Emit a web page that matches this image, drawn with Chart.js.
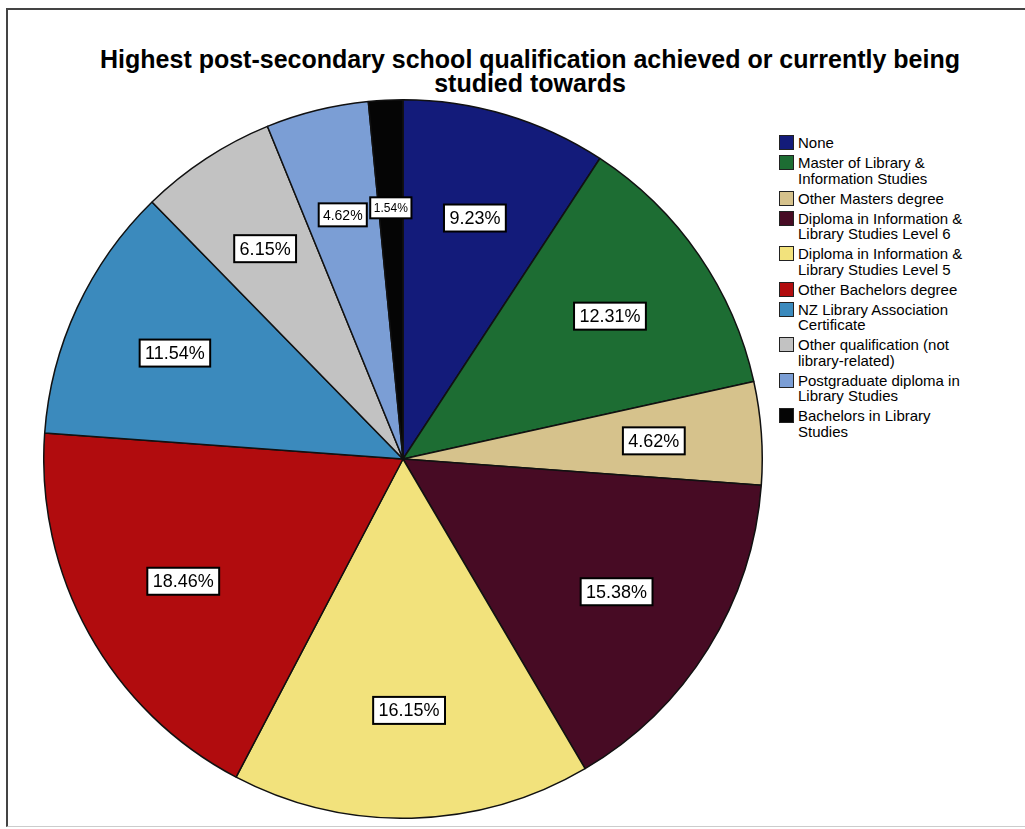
<!DOCTYPE html>
<html>
<head>
<meta charset="utf-8">
<script src="https://cdn.jsdelivr.net/npm/chart.js@4/dist/chart.umd.min.js"></script>
<style>
  html, body { margin: 0; padding: 0; background: #fff; }
  body { width: 1025px; height: 829px; position: relative; overflow: hidden; font-family: "Liberation Sans", Arial, sans-serif; }
  #frame { position: absolute; left: 6px; top: 8px; width: 1040px; height: 819px; border-left: 2px solid #444; border-top: 2px solid #444; border-bottom: 1px solid #ccc; box-sizing: border-box; }
  #title { position: absolute; left: 0; top: 47px; width: 1060px; text-align: center; font-weight: bold; font-size: 25px; line-height: 24px; color: #000; }
  #wrap { position: absolute; left: 43px; top: 99px; width: 720px; height: 720px; }
  #legend { position: absolute; left: 779px; top: 135px; font-size: 15px; line-height: 15.5px; color: #000; }
  .item { display: flex; align-items: flex-start; margin-bottom: 4.5px; }
  .sw { width: 13px; height: 13px; border: 1.5px solid #222; margin-top: 0px; margin-right: 4px; flex: none; }
</style>
</head>
<body>
<div id="frame"></div>
<div id="title">Highest post-secondary school qualification achieved or currently being<br>studied towards</div>
<div id="wrap"><canvas id="pie" width="720" height="720"></canvas></div>
<div id="legend"></div>
<script>
// categories, as printed in the legend (one entry per line)
const categories = [
    ['None'],
    ['Master of Library &', 'Information Studies'],
    ['Other Masters degree'],
    ['Diploma in Information &', 'Library Studies Level 6'],
    ['Diploma in Information &', 'Library Studies Level 5'],
    ['Other Bachelors degree'],
    ['NZ Library Association', 'Certificate'],
    ['Other qualification (not', 'library-related)'],
    ['Postgraduate diploma in', 'Library Studies'],
    ['Bachelors in Library', 'Studies']
];
// share of respondents (%)
const percents = [9.23, 12.31, 4.62, 15.38, 16.15, 18.46, 11.54, 6.15, 4.62, 1.54];
const colors = ['#131b7a', '#1d6d33', '#d6c28c', '#470b24', '#f2e27c', '#b10c0e', '#3b8abd', '#c2c2c2', '#7b9ed5', '#050505'];

// percentage boxes inside the slices
const boxLabels = {
    id: 'boxLabels',
    afterDatasetsDraw(chart) {
        const ctx = chart.ctx;
        const arcs = chart.getDatasetMeta(0).data;
        arcs.forEach((arc, i) => {
            const mid = (arc.startAngle + arc.endAngle) / 2;
            const r = arc.outerRadius * 0.7;
            const x = arc.x + Math.cos(mid) * r;
            const y = arc.y + Math.sin(mid) * r;
            let size = 18;
            if (percents[i] < 2) size = 12;
            else if (i === 8) size = 14;
            ctx.save();
            ctx.font = size + 'px "Liberation Sans", Arial, sans-serif';
            const text = percents[i].toFixed(2) + '%';
            const w = ctx.measureText(text).width + size * 0.6;
            const h = size + 9;
            ctx.fillStyle = '#fff';
            ctx.strokeStyle = '#000';
            ctx.lineWidth = 2;
            ctx.fillRect(x - w / 2, y - h / 2, w, h);
            ctx.strokeRect(x - w / 2, y - h / 2, w, h);
            ctx.fillStyle = '#000';
            ctx.textAlign = 'center';
            ctx.textBaseline = 'middle';
            ctx.fillText(text, x, y + 1);
            ctx.restore();
        });
    }
};

const chart = new Chart(document.getElementById('pie').getContext('2d'), {
    type: 'pie',
    data: {
        labels: categories.map(c => c.join(' ')),
        datasets: [{
            data: percents,
            backgroundColor: colors,
            borderColor: '#111',
            borderWidth: 1.5
        }]
    },
    options: {
        responsive: false,
        animation: false,
        layout: { padding: 0 },
        plugins: {
            legend: { display: false },
            tooltip: { enabled: false }
        }
    },
    plugins: [boxLabels]
});

// legend on the right
const legend = document.getElementById('legend');
categories.forEach((lines, i) => {
    const item = document.createElement('div');
    item.className = 'item';
    const sw = document.createElement('div');
    sw.className = 'sw';
    sw.style.background = colors[i];
    const txt = document.createElement('div');
    txt.innerHTML = lines.join('<br>');
    item.appendChild(sw);
    item.appendChild(txt);
    legend.appendChild(item);
});
</script>
</body>
</html>
